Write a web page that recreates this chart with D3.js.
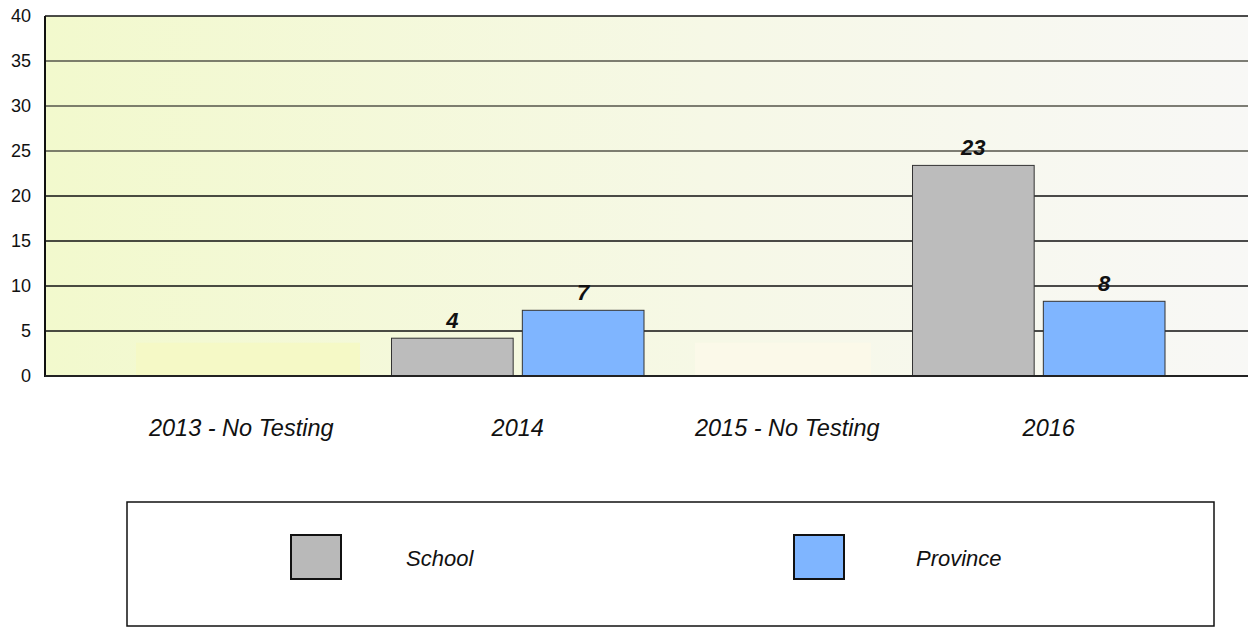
<!DOCTYPE html>
<html><head><meta charset="utf-8">
<script src="https://cdn.jsdelivr.net/npm/d3@7"></script>
<style>body{margin:0;background:#fff;}svg{display:block;font-family:Arial,"Liberation Sans",sans-serif;}</style>
</head><body>
<svg id="c" width="1248" height="627"></svg>
<script>
const categories = ["2013 - No Testing", "2014", "2015 - No Testing", "2016"];
const seriesNames = ["School", "Province"];
const school = [null, 4.2, null, 23.4];
const province = [null, 7.3, null, 8.3];
const schoolLabels = ["", "4", "", "23"];
const provinceLabels = ["", "7", "", "8"];
const yTicks = [0, 5, 10, 15, 20, 25, 30, 35, 40];
const colors = ["#bcbcbc", "#7fb5ff"];

const svg = d3.select("#c");
const plot = {left: 45, top: 16, right: 1252, bottom: 376};
const y = d3.scaleLinear().domain([0, 40]).range([plot.bottom, plot.top]);
const x = d3.scaleBand().domain(categories).range([127, 1169]).paddingInner(0).paddingOuter(0);
const xs = d3.scaleBand().domain(seriesNames).range([4, x.bandwidth() - 4]).paddingInner(0.07);

const defs = svg.append("defs");
const g = defs.append("linearGradient").attr("id", "bg").attr("x1", "0").attr("x2", "1").attr("y1", "0").attr("y2", "0");
g.append("stop").attr("offset", "0").attr("stop-color", "#f2f9cd");
g.append("stop").attr("offset", "0.55").attr("stop-color", "#f6f8e6");
g.append("stop").attr("offset", "1").attr("stop-color", "#f8f8f6");

svg.append("rect").attr("x", plot.left).attr("y", plot.top)
  .attr("width", plot.right - plot.left).attr("height", plot.bottom - plot.top)
  .attr("fill", "url(#bg)");

// faint placeholders for no-testing years
const ghost = [[0, "#f5f9c6", 9, 224], [2, "#fbf9e9", 47, 176]];
ghost.forEach(([i, col, off, w]) => {
  svg.append("rect")
    .attr("x", x(categories[i]) + off).attr("width", w)
    .attr("y", y(3.7)).attr("height", plot.bottom - y(3.7))
    .attr("fill", col);
});

// gridlines
svg.append("g").selectAll("line").data(yTicks.filter(d => d > 0 && d < 40)).join("line")
  .attr("x1", plot.left).attr("x2", plot.right)
  .attr("y1", d => y(d)).attr("y2", d => y(d))
  .attr("stroke", d => d >= 25 ? "#55554a" : "#111").attr("stroke-width", 1.3);

// top border
svg.append("line").attr("x1", plot.left).attr("x2", plot.right).attr("y1", plot.top).attr("y2", plot.top)
  .attr("stroke", "#111").attr("stroke-width", 1.3);

// bars
const rows = categories.map((c, i) => ({c, vals: [school[i], province[i]], labs: [schoolLabels[i], provinceLabels[i]]}));
const grp = svg.append("g").selectAll("g").data(rows).join("g")
  .attr("transform", d => `translate(${x(d.c)},0)`);
grp.selectAll("rect").data(d => d.vals.map((v, j) => ({v, j, s: seriesNames[j]})).filter(e => e.v != null)).join("rect")
  .attr("x", e => xs(e.s)).attr("width", xs.bandwidth())
  .attr("y", e => y(e.v)).attr("height", e => plot.bottom - y(e.v))
  .attr("fill", e => colors[e.j]).attr("stroke", "#333").attr("stroke-width", 1);
grp.selectAll("text").data(d => d.vals.map((v, j) => ({v, j, s: seriesNames[j], l: d.labs[j]})).filter(e => e.v != null)).join("text")
  .attr("x", e => xs(e.s) + xs.bandwidth() / 2).attr("y", e => y(e.v) - 10)
  .attr("text-anchor", "middle").attr("font-size", 22).attr("font-weight", "bold").attr("font-style", "italic")
  .attr("fill", "#111").text(e => e.l);

// axes lines
svg.append("line").attr("x1", plot.left).attr("x2", plot.left).attr("y1", plot.top).attr("y2", plot.bottom + 1)
  .attr("stroke", "#111").attr("stroke-width", 2);
svg.append("line").attr("x1", plot.left).attr("x2", plot.right).attr("y1", plot.bottom).attr("y2", plot.bottom)
  .attr("stroke", "#222").attr("stroke-width", 2);

// y tick labels
svg.append("g").selectAll("text").data(yTicks).join("text")
  .attr("x", 31).attr("y", d => y(d)).attr("dy", "0.35em")
  .attr("text-anchor", "end").attr("font-size", 18).attr("fill", "#111").text(d => d);

// x labels
const xOff = [-16, 0, 9, 10];
svg.append("g").selectAll("text").data(categories).join("text")
  .attr("x", (d, i) => x(d) + x.bandwidth() / 2 + xOff[i]).attr("y", 436)
  .attr("text-anchor", "middle").attr("font-size", 23.5).attr("font-style", "italic").attr("fill", "#111").text(d => d);

// legend
svg.append("rect").attr("x", 127).attr("y", 502).attr("width", 1087).attr("height", 124)
  .attr("fill", "#fff").attr("stroke", "#111").attr("stroke-width", 1.5);
const legX = [291, 794];
const leg = svg.append("g").selectAll("g").data(seriesNames).join("g")
  .attr("transform", (d, i) => `translate(${legX[i]},535)`);
leg.append("rect").attr("x", 0).attr("y", 0).attr("width", 50).attr("height", 44)
  .attr("fill", (d, i) => i === 0 ? "#b9b9b9" : colors[i]).attr("stroke", "#111").attr("stroke-width", 2);
leg.append("text").attr("x", (d, i) => i === 0 ? 115 : 122).attr("y", 31)
  .attr("font-size", 22).attr("font-style", "italic").attr("fill", "#111").text(d => d);
</script>
</body></html>
